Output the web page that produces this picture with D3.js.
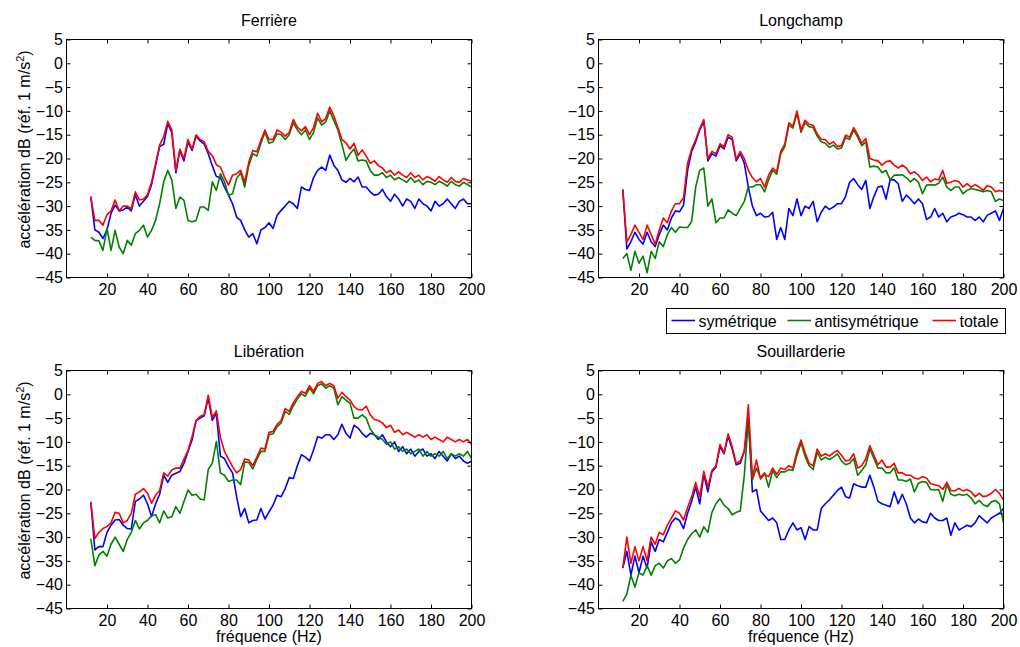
<!DOCTYPE html>
<html>
<head>
<meta charset="utf-8">
<script src="https://cdn.jsdelivr.net/npm/d3@7"></script>
<style>
  body { margin: 0; background: #fff; }
  svg { display: block; }
  text { font-family: "Liberation Sans", Arial, Helvetica, sans-serif; fill: #000; }
</style>
</head>
<body>
<svg id="chart" width="1020" height="647"></svg>
<script>
// Frequency grid (Hz) shared by all spectra
const freq = [12,14,16,18,20,22,24,26,28,30,32,34,36,38,40,42,44,46,48,50,
  52,54,56,58,60,62,64,66,68,70,72,74,76,78,80,82,84,86,88,90,
  92,94,96,98,100,102,104,106,108,110,112,114,116,118,120,122,124,126,128,130,
  132,134,136,138,140,142,144,146,148,150,152,154,156,158,160,162,164,166,168,170,
  172,174,176,178,180,182,184,186,188,190,192,194,196,198,200];

const xTicks = [20, 40, 60, 80, 100, 120, 140, 160, 180, 200];
const yTicks = [5, 0, -5, -10, -15, -20, -25, -30, -35, -40, -45];
const seriesNames = ["symétrique", "antisymétrique", "totale"];
const seriesColors = ["#0000ff", "#008000", "#ff0000"];

// Ferrière
const ferriereSym = [-28,-35,-35.5,-36.8,-35,-31.5,-29.8,-31,-30.8,-30.2,
  -31,-27.6,-30,-29,-28,-25.5,-21.5,-17.5,-17,-12.7,
  -14.5,-23,-18.3,-20.5,-16.5,-18.3,-15.3,-16.3,-17,-19,
  -21.5,-23.8,-24,-26,-27.7,-29.5,-32.3,-33,-35,-36.5,
  -35.8,-37.9,-35,-34.5,-33.5,-34.7,-31.9,-30.9,-30,-29,
  -29.5,-30.5,-26,-26.5,-26.7,-24,-22.5,-21.8,-22.5,-19.3,
  -21.4,-22.5,-24.5,-25,-24.2,-24.9,-23.9,-26,-26,-27,
  -27.7,-27.5,-26.5,-28,-29,-27.5,-28.5,-30,-28.5,-29,
  -30.5,-28.5,-29.5,-30,-31,-29,-30,-29.5,-28.5,-29.5,
  -30.5,-29,-28.5,-29.5,-29.5];
const ferriereAnti = [-36.5,-37.2,-37.3,-39.3,-34.7,-39.3,-35.1,-38.6,-40,-37.2,
  -38.2,-35.8,-35.1,-34,-36.5,-35.1,-33,-29.5,-24.9,-22.5,
  -24.5,-30.5,-28.1,-28.8,-33,-33.3,-33,-30.2,-30.2,-30.9,
  -24.9,-26.7,-23.2,-24.9,-27.7,-27.4,-24.2,-23,-26,-21.5,
  -19,-19.5,-16.8,-14.5,-16.8,-16.5,-14.8,-15,-16,-15,
  -12.5,-14,-15,-14,-16,-14.5,-11.5,-13,-12.3,-10,
  -12,-14,-17,-20.4,-19,-18,-20.5,-20.3,-20.5,-22.5,
  -23.5,-23.5,-23,-24,-23.5,-24.5,-24,-24.5,-25,-24,
  -25,-24.5,-25.5,-24.8,-25,-25.5,-24.8,-25.2,-25.8,-24.8,
  -25.5,-25.8,-25,-25.5,-26];
const ferriereTot = [-28,-33,-33,-34,-31.8,-31,-28.7,-31,-30,-30,
  -30.5,-27,-28.7,-28.5,-27.6,-25,-21,-17.2,-15.4,-12.2,
  -14,-22.5,-18,-20,-16,-18,-15,-16,-16.5,-18.5,
  -19.4,-21.3,-21.8,-23.9,-25.6,-23.5,-23.2,-22.5,-25,-20.8,
  -18.3,-18.6,-16.2,-14,-16,-16,-14,-14.5,-15.3,-14.5,
  -11.8,-13.4,-14.2,-13.3,-15,-13.5,-10.5,-12.3,-11.6,-9.2,
  -11,-13.5,-16,-16.7,-18,-16.8,-19.3,-18.2,-19.5,-21,
  -20.5,-21.5,-22,-23,-22.5,-23.5,-22.8,-23.5,-24,-23,
  -24,-23.5,-24.5,-23.8,-24.2,-24.8,-23.8,-24.5,-25,-24,
  -24.8,-25,-24.2,-24.5,-24.8];

// Longchamp
const longchampSym = [-26.5,-39,-37.5,-35.5,-37,-38,-35.5,-37.5,-38.5,-36,
  -34,-35,-32.5,-31,-31.2,-29.8,-22.5,-18.5,-16.5,-14,
  -12.2,-20.5,-19,-19.5,-17.3,-18,-15.5,-16,-20.5,-19,
  -21,-26,-30,-32,-31.5,-32.3,-32.2,-31.3,-37,-34.5,
  -37,-30.5,-32,-28.5,-32,-30,-30.5,-29,-33.3,-31.3,
  -30,-30.7,-30.2,-29.5,-29.5,-28,-25,-24.2,-25.5,-26.5,
  -24.6,-30.5,-28,-26,-25.8,-28.5,-24.5,-24.5,-25.3,-29,
  -27.7,-28.5,-29.5,-28.5,-29.5,-32.8,-32.3,-30.5,-32.3,-31.5,
  -33.3,-32.3,-32,-31.5,-31.8,-32.3,-32.3,-33,-32.3,-33.3,
  -31.9,-31.5,-31,-33,-30.5];
const longchampAnti = [-41,-40,-43.5,-39.5,-42,-40.5,-44,-39.5,-41,-37.5,
  -38.5,-36,-34.5,-35.5,-34.4,-34.5,-34.5,-33.2,-26,-22.5,
  -22,-30,-28.5,-33.5,-32.5,-32.5,-30.8,-31.5,-32,-30.5,
  -29,-26,-26,-25.5,-25.5,-27,-24.5,-22.5,-23.3,-19,
  -17.5,-13,-13.6,-10.5,-14.5,-12.5,-13.3,-13.5,-15.3,-16.5,
  -16.8,-17.7,-17.2,-18,-17.8,-15.6,-16,-14,-15.5,-17.3,
  -16.5,-21.8,-21.6,-21.8,-23,-22.5,-24.5,-23.5,-23.5,-23.4,
  -24,-24.9,-24.2,-25,-27.4,-25.6,-25.5,-25.6,-25.2,-23.9,
  -26,-26.7,-26,-26,-27.4,-26.7,-26.3,-26.5,-26.7,-27,
  -26.7,-27,-29,-28.5,-28.8];
const longchampTot = [-26.5,-37.5,-36,-34,-35.5,-37,-34,-36,-38,-35,
  -32.5,-33.5,-31,-29.5,-29.5,-28.2,-21,-18,-16,-13.7,
  -11.8,-20,-18.5,-19,-16.9,-17.5,-15,-15.5,-20.2,-18.5,
  -20,-22.5,-24,-24.9,-24.2,-26,-23.5,-22,-22.8,-18.5,
  -17,-12.5,-13.2,-10,-14,-12,-12.8,-13,-14.8,-16,
  -16,-17,-16.5,-17.5,-17.3,-15.1,-15.5,-13.5,-15,-16.8,
  -15.8,-20,-20.3,-20.5,-21.4,-20.7,-20.5,-21.4,-22,-21.4,
  -22,-23.2,-22.8,-23.5,-24.6,-23.9,-24.9,-24.3,-24.5,-22.5,
  -25.2,-25,-24.6,-24.9,-26,-25.3,-26,-25.5,-26,-26.7,
  -25.7,-26,-27,-26.7,-27];

// Libération
const liberationSym = [-22.6,-32.7,-32,-32,-29,-27.5,-26.4,-26.3,-27.5,-28.2,
  -28.3,-22.5,-22,-21.2,-23,-25.7,-23,-21,-17,-18.5,
  -17,-16.6,-16.2,-14.5,-12,-9.6,-5.5,-5,-4.5,-0.8,
  -5.5,-4,-13,-13.5,-15.2,-16.5,-21.5,-25.7,-24,-27,
  -26.5,-26.4,-24,-26.2,-24.7,-23.3,-21.2,-21.5,-19.8,-17.5,
  -17.7,-15,-12.7,-13.2,-14,-11.7,-8.9,-9.2,-8.5,-8.5,
  -9.5,-8.5,-6.3,-8.2,-9.2,-6.5,-7.1,-8.2,-9,-8.2,
  -8.5,-9.5,-8.5,-10,-11,-10,-12,-11,-12.5,-11.5,
  -13,-12,-11.5,-13,-12.5,-13.5,-12,-13,-14,-12.5,
  -13.5,-13,-14,-14.5,-14];
const liberationAnti = [-30.3,-36,-33.8,-33,-34,-31.5,-30,-31.5,-33,-30.5,
  -29,-26.5,-28.3,-27,-26.5,-25.5,-25.3,-27,-24.5,-26,
  -25.7,-23.6,-25,-22.5,-20.1,-21.2,-21,-22,-22.2,-15.8,
  -14.5,-9.9,-16.5,-17,-18.3,-18,-18,-19,-14.2,-14.3,
  -15.7,-13.7,-12,-12,-8.5,-8.3,-6.8,-6,-3.6,-4.2,
  -2.4,-1,0.1,-0.4,1.3,0.1,1.8,2.2,1.3,1.8,
  1.3,-2.2,-0.5,-1.2,-1.9,-5,-5,-4.3,-5,-7.3,
  -8.5,-9,-9.5,-10.5,-10,-11.5,-11,-12,-11.5,-12.5,
  -12,-11.5,-13,-12,-13,-12.5,-13,-12,-13.5,-12.5,
  -13,-12.5,-13,-12,-13.5];
const liberationTot = [-22.6,-30.3,-29,-28.2,-27.8,-27,-24.8,-25,-27,-26.5,
  -25,-21,-20.5,-19.8,-20.8,-22.9,-21.2,-20.2,-16.5,-17.2,
  -15.9,-15.5,-15.5,-13.6,-11.8,-8.9,-5.5,-4.6,-4.3,-0.2,
  -4.8,-3.5,-9,-12,-13.6,-15.2,-16.5,-15.8,-13.6,-13.8,
  -15,-13.2,-11.3,-11.5,-8,-7.8,-6.3,-5.5,-3,-3.6,
  -1.8,-0.5,0.6,0.2,1.8,0.6,2.3,2.7,1.8,2.3,
  1.8,-0.8,0.4,-0.5,-1.2,-2.6,-3.2,-3.3,-2.5,-4.3,
  -5.3,-5.5,-6,-7,-6.5,-8,-7.5,-8.5,-8,-8.5,
  -9,-8.5,-9,-8.5,-9.5,-9,-9.5,-10,-9,-9.5,
  -10,-9.5,-10,-9.5,-10.5];

// Souillarderie
const souillarderieSym = [-36.5,-33,-38,-34,-37.5,-34,-36.5,-31,-33,-30.5,
  -31,-29,-27,-26,-26.5,-28.2,-25,-22.5,-19.5,-23,
  -16.8,-20.5,-16.3,-15.3,-11,-12.5,-8.8,-11.5,-14.8,-14.5,
  -12,-5,-20.5,-20,-24.5,-25.5,-26.5,-26,-27,-30.5,
  -30.5,-28.5,-27,-28.5,-28,-30.5,-27.8,-28.5,-28.5,-24,
  -23,-22.2,-21.2,-20.2,-19.5,-21.5,-21.8,-18.8,-19.2,-19.5,
  -19.5,-17,-19.5,-22.5,-23,-23.3,-23.6,-20.5,-23,-21,
  -23,-26,-27,-26.2,-26.8,-27,-25,-26,-26.5,-26.5,
  -26,-29.6,-27,-28.5,-28,-27.5,-27.8,-27,-25.5,-26.3,
  -27,-26,-25.5,-25,-24];
const souillarderieAnti = [-43.5,-42,-38,-40.5,-37.5,-38,-36,-38,-36,-35.5,
  -36.5,-35,-34.5,-35.5,-34.8,-32.3,-30.5,-29.3,-28.5,-30,
  -27.8,-29,-24.8,-23,-21.9,-23.3,-24,-25.3,-24.8,-24.5,
  -17,-5.4,-18,-15.5,-17.5,-16.5,-19.5,-16,-17.5,-16.3,
  -16.3,-15.8,-16,-12.8,-10.2,-13,-15,-15.8,-12.2,-13.8,
  -13.2,-13.7,-13.2,-12.5,-14,-14.8,-14.5,-13.5,-17,-16,
  -14.8,-11.5,-13.5,-15.5,-15.5,-16.5,-16.5,-15.5,-18,-18,
  -18.3,-17.8,-20.5,-18.7,-18.3,-18.5,-20,-20.1,-20,-22.5,
  -19,-21,-21.3,-21,-21.2,-21,-21.8,-23,-22.3,-23.2,
  -23.6,-22.6,-22.3,-23,-27];
const souillarderieTot = [-36.5,-30,-35.5,-32,-35,-32,-35,-30,-31.5,-29,
  -29.5,-27.5,-26,-24.5,-25,-26.4,-23.8,-21.5,-18.5,-21.5,
  -16.2,-19.5,-16,-15,-10.5,-12.3,-8.3,-11,-14.5,-14,
  -12,-2.2,-17.5,-13.8,-17.8,-16.8,-17.3,-15.5,-16.8,-15.5,
  -15.8,-15,-15.5,-12,-9.6,-12.3,-14.5,-15,-11.5,-13,
  -12.5,-13,-12.3,-11.8,-12.8,-14,-13.8,-12.5,-15.5,-15,
  -13.5,-10.8,-12.8,-14.8,-13.8,-15.3,-15.3,-14.5,-16.5,-16.5,
  -17,-17,-17.6,-17.8,-17.3,-17.6,-18.8,-19,-19.2,-20,
  -18.5,-20.2,-20.3,-19.8,-20.3,-20,-20.5,-21.5,-20.8,-21.5,
  -21.3,-20.8,-20,-20.8,-22.2];

const panels = [
  { title: "Ferrière",      series: [ferriereSym, ferriereAnti, ferriereTot] },
  { title: "Longchamp",     series: [longchampSym, longchampAnti, longchampTot] },
  { title: "Libération",    series: [liberationSym, liberationAnti, liberationTot] },
  { title: "Souillarderie", series: [souillarderieSym, souillarderieAnti, souillarderieTot] }
];

// Layout of the 2x2 grid
const colX = [66.5, 598.5];
const rowY = [39.5, 370.5];
const pw = 405, ph = 238;
const fontSize = 16;
const tick = 4;

const svg = d3.select("#chart");
const x = d3.scaleLinear().domain([0, 200]).range([0, pw]);
const y = d3.scaleLinear().domain([-45, 5]).range([ph, 0]);
const fmt = d => d < 0 ? "\u2212" + Math.abs(d) : String(d);

function styleAxis(g) {
  g.select(".domain").remove();
  g.attr("font-family", null).attr("font-size", null);
  g.selectAll(".tick line").attr("stroke", "#000").attr("stroke-width", 1);
  g.selectAll(".tick text").attr("font-size", fontSize).attr("fill", "#000");
}

panels.forEach((p, i) => {
  const col = i % 2, row = Math.floor(i / 2);
  const g = svg.append("g").attr("transform", `translate(${colX[col]},${rowY[row]})`);

  g.append("clipPath").attr("id", "clip" + i)
    .append("rect").attr("width", pw).attr("height", ph);

  const line = d3.line()
    .x((d, j) => x(freq[j]))
    .y(d => y(d));

  const plot = g.append("g").attr("clip-path", `url(#clip${i})`);
  p.series.forEach((vals, k) => {
    plot.append("path")
      .datum(vals)
      .attr("d", line)
      .attr("fill", "none")
      .attr("stroke", seriesColors[k])
      .attr("stroke-width", 1.6)
      .attr("stroke-linejoin", "round");
  });

  // Axes with inward ticks on all four sides
  g.append("g").attr("transform", `translate(0,${ph})`)
    .call(d3.axisBottom(x).tickValues(xTicks).tickFormat(fmt)
      .tickSizeInner(-tick).tickSizeOuter(0).tickPadding(6.5))
    .call(styleAxis);
  g.append("g")
    .call(d3.axisTop(x).tickValues(xTicks).tickFormat("")
      .tickSizeInner(-tick).tickSizeOuter(0))
    .call(styleAxis);
  g.append("g")
    .call(d3.axisLeft(y).tickValues(yTicks).tickFormat(fmt)
      .tickSizeInner(-tick).tickSizeOuter(0).tickPadding(3.5))
    .call(styleAxis);
  g.append("g").attr("transform", `translate(${pw},0)`)
    .call(d3.axisRight(y).tickValues(yTicks).tickFormat("")
      .tickSizeInner(-tick).tickSizeOuter(0))
    .call(styleAxis);

  g.append("rect")
    .attr("width", pw).attr("height", ph)
    .attr("fill", "none").attr("stroke", "#000").attr("stroke-width", 1);

  // Title
  g.append("text")
    .attr("x", pw / 2).attr("y", -13.5)
    .attr("text-anchor", "middle")
    .attr("font-size", fontSize)
    .text(p.title);

  // Y label on the left column
  if (col === 0) {
    const t = g.append("text")
      .attr("transform", `translate(${29.5 - colX[col]},${ph / 2 - 9}) rotate(-90)`)
      .attr("text-anchor", "middle")
      .attr("font-size", fontSize);
    t.append("tspan").text("accélération dB (réf. 1 m/s");
    t.append("tspan").attr("dy", -6).attr("font-size", 11).text("2");
    t.append("tspan").attr("dy", 6).text(")");
  }

  // X label on the bottom row
  if (row === 1) {
    g.append("text")
      .attr("x", pw / 2).attr("y", ph + 33.5)
      .attr("text-anchor", "middle")
      .attr("font-size", fontSize)
      .text("fréquence (Hz)");
  }
});

// Legend
const legend = svg.append("g");
legend.append("rect")
  .attr("x", 666.5).attr("y", 308.5).attr("width", 339).attr("height", 25)
  .attr("fill", "#fff").attr("stroke", "#000").attr("stroke-width", 1);
const legendLineX = [671.5, 787.5, 932.5];
seriesNames.forEach((name, k) => {
  legend.append("line")
    .attr("x1", legendLineX[k]).attr("x2", legendLineX[k] + 23.5)
    .attr("y1", 320.5).attr("y2", 320.5)
    .attr("stroke", seriesColors[k]).attr("stroke-width", 1.6);
  legend.append("text")
    .attr("x", legendLineX[k] + 27).attr("y", 326.8)
    .attr("font-size", fontSize)
    .text(name);
});
</script>
</body>
</html>
